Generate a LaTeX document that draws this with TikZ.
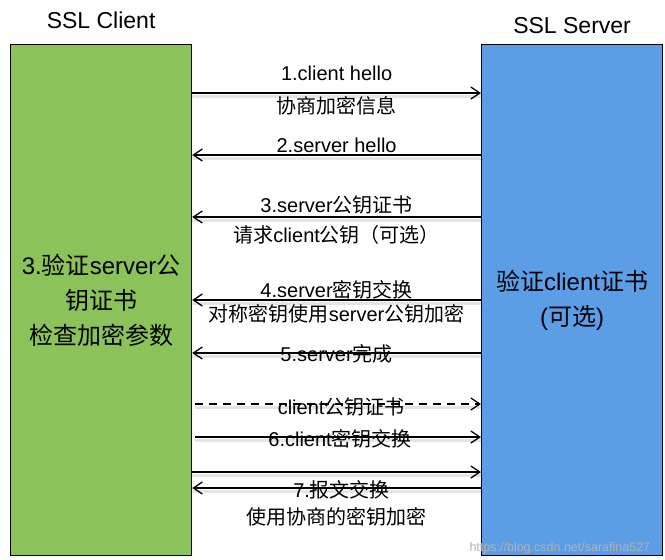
\documentclass[tikz,border=0pt]{standalone}
\usepackage{fontspec}
\setmainfont{Liberation Sans}
\newfontfamily\cjk{Noto Sans CJK SC}
\usetikzlibrary{arrows.meta, positioning}
\definecolor{clientgreen}{HTML}{8BC25A}
\definecolor{serverblue}{HTML}{5C9EE6}
\newcommand{\zh}[1]{{\cjk #1}}
\tikzset{
	>={Straight Barb[length=9pt, width=12pt]}, % open arrow heads
	party/.style={draw, line width=1.2pt, minimum width=181pt, minimum height=511pt, anchor=north west, align=center, font=\fontsize{24}{35}\selectfont}, % the two big boxes
	title/.style={font=\fontsize{23}{28}\selectfont}, % header above each box
	msg/.style={line width=1.3pt, preaction={draw=black!10, line width=3pt, -, transform canvas={yshift=-3pt}}}, % message arrows
	lbl/.style={font=\fontsize{20}{24}\selectfont, inner sep=0pt}, % message labels
}
\begin{document}
\begin{tikzpicture}[x=1pt, y=-1pt]
		\useasboundingbox (0,0) rectangle (665,560);
		% Define boxes
		\node[party, fill=clientgreen] (client) at (10,44) {3.\zh{验证}server\zh{公}\\\zh{钥证书}\\\zh{检查加密参数}};
		\node[party, fill=serverblue] (server) at (481,44) {\zh{验证}client\zh{证书}\\(\zh{可选})};
		\node[title, above=12pt of client] (cname) {SSL Client};
		\node[title, above=7pt of server] (sname) {SSL Server};
		
		% Message rows
		\coordinate (m1) at (0,93);
		\coordinate (m2) at (0,155);
		\coordinate (m3) at (0,217);
		\coordinate (m4) at (0,300);
		\coordinate (m5) at (0,353);
		\coordinate (m6) at (0,404);
		\coordinate (m7) at (0,437);
		\coordinate (m8) at (0,472);
		\coordinate (m9) at (0,488);
		
		% Messages
		\draw[msg, ->] (client.east |- m1) -- node[lbl, yshift=20pt] (l1) {1.client hello} node[lbl, yshift=-13pt] (l1b) {\zh{协商加密信息}} (server.west |- m1);
		\draw[msg, ->] (server.west |- m2) -- node[lbl, yshift=10pt] (l2) {2.server hello} (client.east |- m2);
		\draw[msg, ->] (server.west |- m3) -- node[lbl, yshift=12pt] (l3) {3.server\zh{公钥证书}} node[lbl, yshift=-18pt] (l3b) {\zh{请求}client\zh{公钥（可选）}} (client.east |- m3);
		\draw[msg, ->] (server.west |- m4) -- node[lbl, yshift=10pt] (l4) {4.server\zh{密钥交换}} node[lbl, yshift=-14pt] (l4b) {\zh{对称密钥使用}server\zh{公钥加密}} (client.east |- m4);
		\draw[msg, ->] (server.west |- m5) -- node[lbl, yshift=-1pt] (l5) {5.server\zh{完成}} (client.east |- m5);
		\draw[msg, ->, dash pattern=on 8pt off 6pt] ([xshift=3pt]client.east |- m6) -- node[lbl, yshift=-3pt, xshift=3pt] (lc) {client\zh{公钥证书}} (server.west |- m6);
		\draw[msg, ->] ([xshift=3pt]client.east |- m7) -- node[lbl, yshift=-2pt, xshift=2pt] (l6) {6.client\zh{密钥交换}} (server.west |- m7);
		\draw[msg, ->] (client.east |- m8) -- (server.west |- m8);
		\draw[msg, ->] (server.west |- m9) -- node[lbl, yshift=-2pt, xshift=5pt] (l7) {7.\zh{报文交换}} node[lbl, yshift=-29pt] (l7b) {\zh{使用协商的密钥加密}} (client.east |- m9);
		
		\node[anchor=west, text=white!70!black, font=\fontsize{12.5}{15}\selectfont] (mark) at (466,548) {https://blog.csdn.net/sarafina527};
	\end{tikzpicture}
\end{document}
